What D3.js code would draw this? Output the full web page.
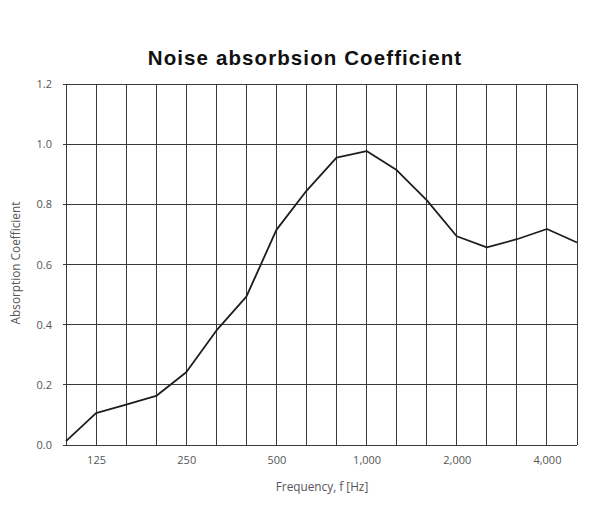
<!DOCTYPE html>
<html>
<head>
<meta charset="utf-8">
<script src="https://cdn.jsdelivr.net/npm/d3@7"></script>
<style>
  html, body { margin: 0; padding: 0; background: #fff; }
  svg { display: block; }
</style>
</head>
<body>
<svg id="chart" width="598" height="506"></svg>
<script>
const frequencies = ["100","125","160","200","250","315","400","500","630","800","1000","1250","1600","2000","2500","3150","4000","5000"];
const absorption = [0.013, 0.106, 0.134, 0.163, 0.242, 0.38, 0.493, 0.715, 0.845, 0.955, 0.977, 0.914, 0.814, 0.694, 0.657, 0.684, 0.718, 0.673];
const xTickValues = ["125","250","500","1000","2000","4000"];
const xTickLabels = ["125","250","500","1,000","2,000","4,000"];
const yTicks = [0, 0.2, 0.4, 0.6, 0.8, 1.0, 1.2];

const svg = d3.select("#chart");
const plotLeft = 66, plotRight = 577, plotTop = 84, plotBottom = 445;

const x = d3.scalePoint().domain(frequencies).range([plotLeft, plotRight]);
const y = d3.scaleLinear().domain([0, 1.2]).range([plotBottom, plotTop]);

const labelFont = "'Open Sans', sans-serif";

// title
svg.append("text")
  .attr("x", 305).attr("y", 65)
  .attr("text-anchor", "middle")
  .attr("font-family", "'Liberation Sans', Arial, sans-serif")
  .attr("font-weight", "bold")
  .attr("font-size", 20.5)
  .attr("letter-spacing", 1.1)
  .attr("fill", "#111")
  .text("Noise absorbsion Coefficient");

const grid = svg.append("g");
// vertical grid
grid.selectAll("line.v").data(frequencies).join("line")
  .attr("class", "v")
  .attr("x1", d => x(d)).attr("x2", d => x(d))
  .attr("y1", plotTop).attr("y2", plotBottom)
  .attr("stroke", "#3a3a3a").attr("stroke-width", 1).attr("shape-rendering", "crispEdges");
// horizontal grid
grid.selectAll("line.h").data(yTicks).join("line")
  .attr("class", "h")
  .attr("x1", plotLeft - 3).attr("x2", plotRight)
  .attr("y1", d => y(d)).attr("y2", d => y(d))
  .attr("stroke", "#3a3a3a").attr("stroke-width", 1).attr("shape-rendering", "crispEdges");

// y axis labels
const yAxis = d3.axisLeft(y).tickValues(yTicks).tickSize(0).tickPadding(0).tickFormat(d3.format(".1f"));
const gy = svg.append("g").attr("transform", `translate(${plotLeft - 14},0)`).call(yAxis);
gy.select(".domain").remove();
gy.selectAll("text").attr("font-family", labelFont).attr("font-size", 11).attr("fill", "#555");

// x axis labels
const xAxis = d3.axisBottom(x).tickValues(xTickValues).tickSize(0).tickPadding(0)
  .tickFormat((d, i) => xTickLabels[i]);
const gx = svg.append("g").attr("transform", `translate(0,${plotBottom + 11})`).call(xAxis);
gx.select(".domain").remove();
gx.selectAll("text").attr("font-family", labelFont).attr("font-size", 11).attr("fill", "#555");

// axis titles
svg.append("text")
  .attr("x", 322).attr("y", 491)
  .attr("text-anchor", "middle")
  .attr("font-family", labelFont).attr("font-size", 11.8).attr("fill", "#555")
  .text("Frequency, f [Hz]");
svg.append("text")
  .attr("transform", "translate(20,263) rotate(-90)")
  .attr("text-anchor", "middle")
  .attr("font-family", labelFont).attr("font-size", 11.8).attr("fill", "#555")
  .text("Absorption Coefficient");

// line
const line = d3.line().x((d, i) => x(frequencies[i])).y(d => y(d));
svg.append("path")
  .datum(absorption)
  .attr("d", line)
  .attr("fill", "none")
  .attr("stroke", "#1e1e1e")
  .attr("stroke-width", 1.8)
  .attr("stroke-linejoin", "round");
</script>
</body>
</html>
